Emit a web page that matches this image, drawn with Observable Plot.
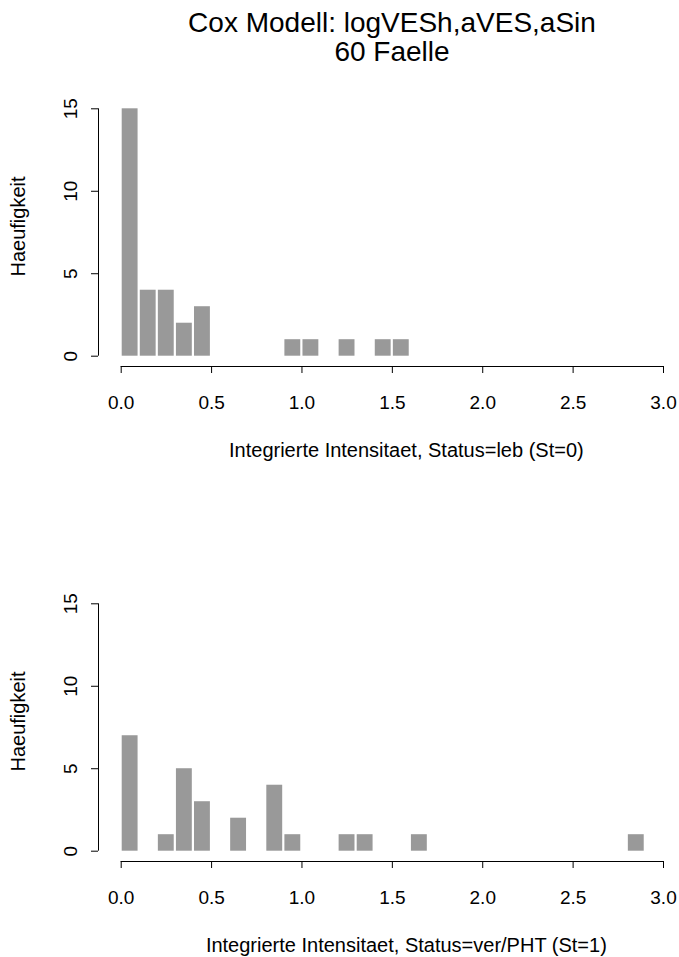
<!DOCTYPE html>
<html>
<head>
<meta charset="utf-8">
<script src="https://cdn.jsdelivr.net/npm/d3@7"></script>
<script src="https://cdn.jsdelivr.net/npm/@observablehq/plot@0.6"></script>
<style>
  html, body { margin: 0; padding: 0; background: #fff; }
  #page { position: relative; width: 679px; height: 957px; overflow: hidden; font-family: "Liberation Sans", Arial, Helvetica, sans-serif; color: #000; }
  #title { position: absolute; z-index: 2; left: 92px; width: 600px; top: 8px; text-align: center; font-size: 28px; line-height: 29px; }
  .panel { position: absolute; left: 0; z-index: 1; }
  .panel svg { display: block; }
</style>
</head>
<body>
<div id="page">
  <div id="title">Cox Modell: logVESh,aVES,aSin<br>60 Faelle</div>
  <div class="panel" id="p0" style="top:60px"></div>
  <div class="panel" id="p1" style="top:555px"></div>
</div>
<script>
// Histogram bins: lower edge of each non-empty bin and its count
const binWidth = 0.1;
const liveStarts  = [0.0, 0.1, 0.2, 0.3, 0.4, 0.9, 1.0, 1.2, 1.4, 1.5];
const liveCounts  = [15, 4, 4, 2, 3, 1, 1, 1, 1, 1];
const deadStarts  = [0.0, 0.2, 0.3, 0.4, 0.6, 0.8, 0.9, 1.2, 1.3, 1.6, 2.8];
const deadCounts  = [7, 1, 5, 3, 2, 4, 1, 1, 1, 1, 1];

const xTicks = [0, 0.5, 1.0, 1.5, 2.0, 2.5, 3.0];
const yTicks = [0, 5, 10, 15];
const yLabel = "Haeufigkeit";
const liveLabel = "Integrierte Intensitaet, Status=leb (St=0)";
const deadLabel = "Integrierte Intensitaet, Status=ver/PHT (St=1)";

const FONT = "Liberation Sans, Arial, Helvetica, sans-serif";

function panel(starts, counts, xLabel) {
  const bins = starts.map((s, i) => ({x0: s, x1: s + binWidth, count: counts[i]}));
  const xMin = d3.min(xTicks), xMax = d3.max(xTicks);
  const yMin = d3.min(yTicks), yMax = d3.max(yTicks);
  return Plot.plot({
    width: 679,
    height: 400,
    marginTop: 48.3,
    marginBottom: 104.3,
    marginLeft: 120.7,
    marginRight: 16,
    style: {fontFamily: FONT, color: "#000", background: "transparent", overflow: "visible"},
    x: {domain: [xMin, xMax]},
    y: {domain: [yMin, yMax]},
    marks: [
      Plot.rectY(bins, {x1: "x0", x2: "x1", y: "count", fill: "#999999", insetLeft: 1, insetRight: 1.2}),
      // axis lines, offset from the data region
      Plot.ruleY([{y: yMin, a: xMin, b: xMax}], {y: "y", x1: "a", x2: "b", dy: 10.3, stroke: "#000", strokeWidth: 1}),
      Plot.ruleX([{x: xMin, a: yMin, b: yMax}], {x: "x", y1: "a", y2: "b", dx: -22.7, stroke: "#000", strokeWidth: 1}),
      Plot.axisX(xTicks, {tickFormat: d3.format(".1f"), tickSize: 7, tickPadding: 22, dy: 10.3, fontSize: 19, label: null}),
      Plot.axisY(yTicks, {tickSize: 7, tickPadding: 15, tickRotate: -90, dx: -22.7, fontSize: 19, label: null}),
      // axis titles
      Plot.text([{t: xLabel, x: (xMin + xMax) / 2, y: yMin}], {x: "x", y: "y", text: "t", dx: 14, dy: 94, fontSize: 20, fill: "#000"}),
      Plot.text([{t: yLabel, x: xMin, y: (yMin + yMax) / 2}], {x: "x", y: "y", text: "t", dx: -102.7, dy: -6, rotate: -90, fontSize: 20, fill: "#000"})
    ]
  });
}

document.getElementById("p0").appendChild(panel(liveStarts, liveCounts, liveLabel));
document.getElementById("p1").appendChild(panel(deadStarts, deadCounts, deadLabel));
</script>
</body>
</html>
